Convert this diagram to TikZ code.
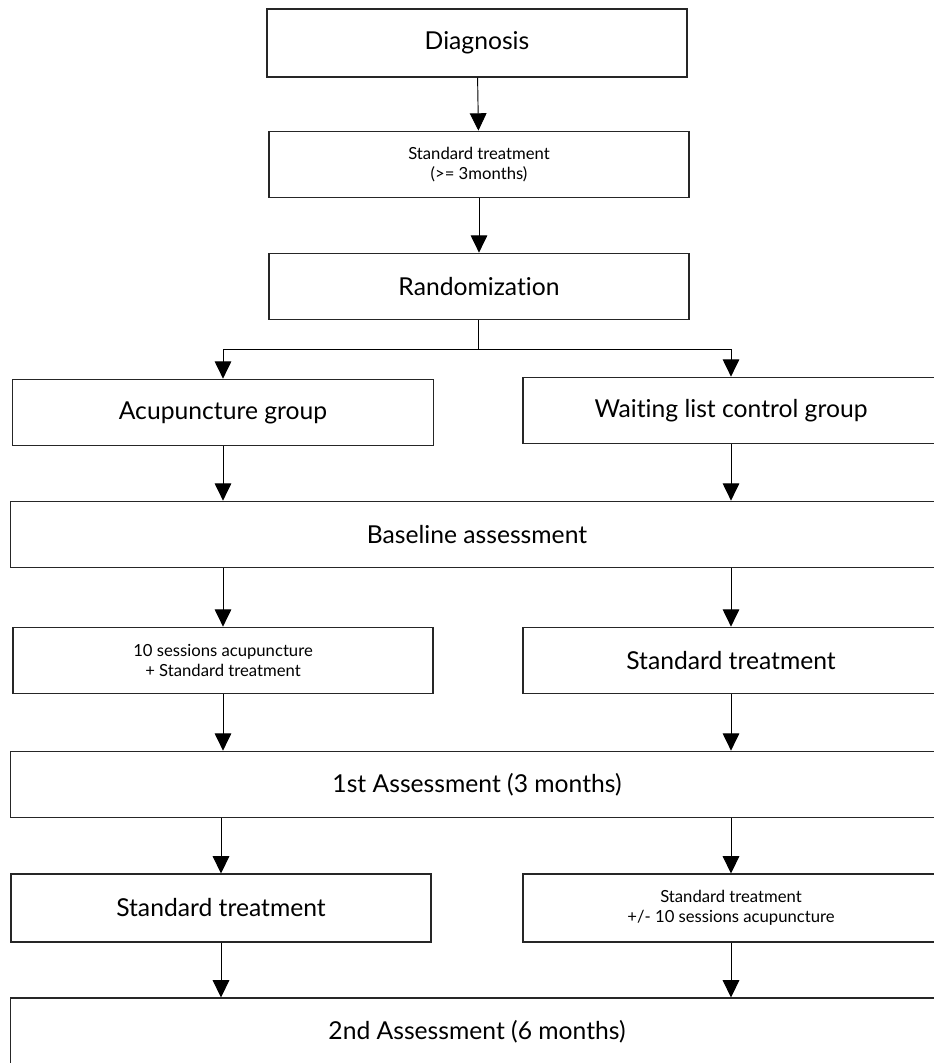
\documentclass[tikz,border=0pt]{standalone}
\usepackage{fontspec}
\setmainfont{Lato}[Ligatures={NoCommon}]
\usepackage{tikz}
\usetikzlibrary{positioning, arrows.meta}
\tikzstyle{stageBox}=[draw=black!85, line width=0.8pt, rectangle, inner sep=0pt, font=\fontsize{18.5}{21}\selectfont]
\tikzstyle{smallText}=[font=\fontsize{12.5}{15}\selectfont, align=center]
\tikzstyle{flowArrow}=[-{Triangle[length=13pt, width=12.5pt]}, line width=0.7pt]

\begin{document}
\begin{tikzpicture}[x=0.75pt, y=-0.75pt]
    \useasboundingbox (0,0) rectangle (934,1063);

    \node[stageBox, minimum width=315pt, minimum height=51pt] (diag) at (477,43) {Diagnosis};
    \node[stageBox, smallText, minimum width=315pt, minimum height=50pt] (std0) at (479,164.5) {Standard treatment\\(>= 3months)};
    \node[stageBox, minimum width=315pt, minimum height=50pt] (rand) at (479,286.5) {Randomization};

    \node[stageBox, minimum width=316pt, minimum height=50pt] (acu) at (223,412.5) {Acupuncture group};
    \node[stageBox, minimum width=312pt, minimum height=50pt] (wait) at (731,410.5) {Waiting list control group};

    \node[stageBox, minimum width=700pt, minimum height=50pt] (base) at (477,534.5) {Baseline assessment};

    \node[stageBox, smallText, minimum width=315pt, minimum height=50pt] (acuStd) at (223,660.5) {10 sessions acupuncture\\+ Standard treatment};
    \node[stageBox, minimum width=312pt, minimum height=50pt] (waitStd) at (731,660.5) {Standard treatment};

    \node[stageBox, minimum width=700pt, minimum height=50pt] (first) at (477,784.5) {1st Assessment (3 months)};

    \node[stageBox, minimum width=315pt, minimum height=51pt] (acuStd2) at (221,908) {Standard treatment};
    \node[stageBox, smallText, minimum width=312pt, minimum height=51pt] (waitAcu) at (731,908) {Standard treatment\\+/- 10 sessions acupuncture};

    \node[stageBox, minimum width=700pt, minimum height=51pt] (second) at (477,1032) {2nd Assessment (6 months)};

    \coordinate (split) at (478,349);

    \draw[flowArrow] (diag) -- (std0);
    \draw[flowArrow] (std0) -- (rand);
    \draw[line width=0.7pt] (rand.south -| split) -- (split);
    \draw[flowArrow] (split) -| (acu.north);
    \draw[flowArrow] (split) -| (wait.north);

    \draw[flowArrow] (acu) -- (acu |- base.north);
    \draw[flowArrow] (wait) -- (wait |- base.north);
    \draw[flowArrow] (base.south -| acu) -- (acuStd);
    \draw[flowArrow] (base.south -| wait) -- (waitStd);
    \draw[flowArrow] (acuStd) -- (acuStd |- first.north);
    \draw[flowArrow] (waitStd) -- (waitStd |- first.north);
    \draw[flowArrow] (first.south -| acuStd2) -- (acuStd2);
    \draw[flowArrow] (first.south -| waitAcu) -- (waitAcu);
    \draw[flowArrow] (acuStd2) -- (acuStd2 |- second.north);
    \draw[flowArrow] (waitAcu) -- (waitAcu |- second.north);

  \end{tikzpicture}
\end{document}
